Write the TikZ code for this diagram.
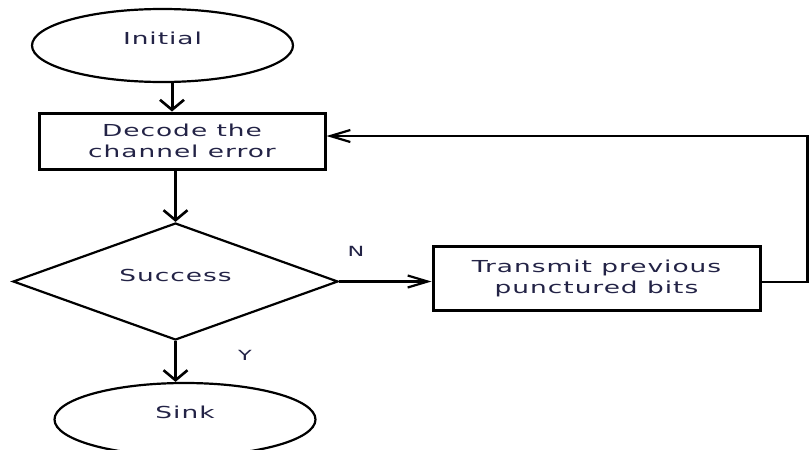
\documentclass[tikz,border=0pt]{standalone}
\usepackage{fontspec}
\setmainfont{DejaVu Sans}[FakeStretch=1.6,LetterSpace=6]
\usetikzlibrary{shapes.geometric,arrows.meta}
\definecolor{txt}{RGB}{35,35,70}
\tikzset{
  every node/.style={font=\fontsize{16.5pt}{21pt}\selectfont, text=txt},
  term/.style={ellipse, draw, line width=2.2pt, minimum width=261pt, minimum height=73pt, inner sep=0pt, text depth=14pt},
  proc/.style={rectangle, draw, line width=3pt, align=center, inner sep=0pt},
  decision/.style={diamond, draw, line width=2.2pt, minimum width=325pt, minimum height=117pt, inner sep=0pt, text depth=12pt},
  varr/.style={line width=3pt, -{Straight Barb[length=10pt,width=24pt,line width=2.6pt]}},
  harr/.style={line width=2.2pt, -{Straight Barb[length=20pt,width=12pt,line width=2.2pt]}},
  lab/.style={font=\fontsize{14pt}{16pt}\selectfont},
}
\begin{document}
\begin{tikzpicture}[x=1pt,y=-1pt]
\useasboundingbox (0,0) rectangle (809,450);
\node[term] (init) at (162.5,45.5) {Initial};
\node[proc, minimum width=286pt, minimum height=56pt] (dec) at (182,141) {Decode the\\channel error};
\node[decision] (dia) at (175.5,281.5) {\makebox[0pt]{Success}};
\node[proc, minimum width=327pt, minimum height=64pt] (tx) at (596.5,278) {Transmit previous\\punctured bits};
\node[term] (sink) at (185,419.5) {Sink};
\node[lab] (n) at (356,251) {N};
\node[lab] (y) at (245,355) {Y};
\coordinate (fbtop) at (807.5,136);
\coordinate (fbbot) at (807.5,282);
\draw[varr] ([xshift=9.5pt]init.south) -- ([xshift=9.5pt]init.south |- dec.north);
\draw[varr] (dia.north |- dec.south) -- (dia.north);
\draw[varr] (dia.south) -- (dia.south |- sink.north);
\draw[harr] (dia.east) -- (dia.east -| tx.west);
\draw[harr] (tx.east |- fbbot) -- (fbbot) -- (fbtop) -- (fbtop -| dec.east);
\end{tikzpicture}
\end{document}
